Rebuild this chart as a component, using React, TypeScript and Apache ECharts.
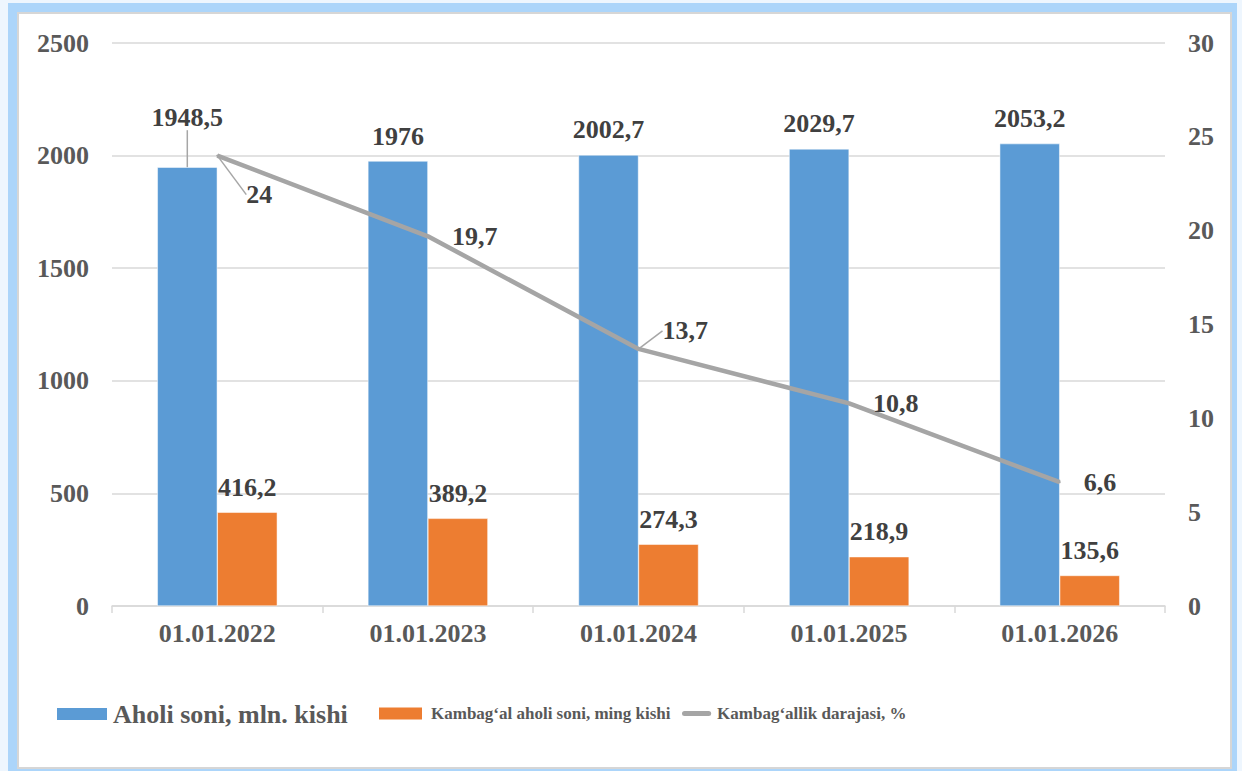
import React, { useEffect, useRef } from "react";
import * as echarts from "echarts";

const categories = ["01.01.2022", "01.01.2023", "01.01.2024", "01.01.2025", "01.01.2026"];
const population = [1948.5, 1976, 2002.7, 2029.7, 2053.2];
const poorPopulation = [416.2, 389.2, 274.3, 218.9, 135.6];
const povertyRate = [24, 19.7, 13.7, 10.8, 6.6];
const leftTicks = [0, 500, 1000, 1500, 2000, 2500];
const rightTicks = [0, 5, 10, 15, 20, 25, 30];
const seriesNames = [
  "Aholi soni, mln. kishi",
  "Kambag\u2018al aholi soni, ming kishi",
  "Kambag\u2018allik darajasi, %",
];

const FONT = "Liberation Serif";
const fmt = (v: number) => String(v).replace(".", ",");

export default function App() {
  const ref = useRef<HTMLDivElement>(null);
  useEffect(() => {
    if (!ref.current) return;
    const chart = echarts.init(ref.current, undefined, { renderer: "svg" });
    const labelStyle = {
      show: true,
      fontFamily: FONT,
      fontWeight: "bold" as const,
      fontSize: 26,
      color: "#404040",
      formatter: (p: any) => fmt(p.value),
    };
    const axisText = {
      fontFamily: FONT,
      fontWeight: "bold" as const,
      fontSize: 26,
      color: "#595959",
    };
    const legendText = (size: number) => ({
      fontFamily: FONT,
      fontWeight: "bold" as const,
      fontSize: size,
      color: "#595959",
    });
    const leader = { show: true, lineStyle: { color: "#A6A6A6", width: 1.5 } };
    chart.setOption({
      animation: false,
      textStyle: { fontFamily: FONT },
      grid: { left: 112, right: 77, top: 43, bottom: 165, containLabel: false },
      legend: [
        {
          left: 55,
          top: 701,
          padding: 0,
          itemWidth: 52,
          itemHeight: 14,
          textStyle: legendText(26),
          data: [{ name: seriesNames[0], icon: "rect" }],
        },
        {
          left: 377,
          top: 705,
          padding: 0,
          itemWidth: 45,
          itemHeight: 14,
          textStyle: { ...legendText(17), padding: [0, 0, 0, 3] },
          data: [{ name: seriesNames[1], icon: "rect" }],
        },
        {
          left: 682,
          top: 705,
          padding: 0,
          itemWidth: 35,
          itemHeight: 5,
          textStyle: { ...legendText(17), padding: [0, 0, 0, -2] },
          data: [
            {
              name: seriesNames[2],
              icon: "path://M3,0 L32,0 A3,3 0 0 1 32,6 L3,6 A3,3 0 0 1 3,0 Z",
            },
          ],
        },
      ],
      xAxis: {
        type: "category",
        data: categories,
        axisLine: { lineStyle: { color: "#D9D9D9", width: 1.5 } },
        axisTick: { show: true, length: 7, lineStyle: { color: "#D9D9D9", width: 1.5 } },
        axisLabel: { margin: 14, ...axisText },
      },
      yAxis: [
        {
          type: "value",
          min: leftTicks[0],
          max: leftTicks[leftTicks.length - 1],
          interval: leftTicks[1] - leftTicks[0],
          axisLine: { show: false },
          axisTick: { show: false },
          splitLine: { lineStyle: { color: "#D9D9D9", width: 1.5 } },
          axisLabel: { margin: 23, ...axisText, formatter: (v: number) => String(v) },
        },
        {
          type: "value",
          min: rightTicks[0],
          max: rightTicks[rightTicks.length - 1],
          interval: rightTicks[1] - rightTicks[0],
          axisLine: { show: false },
          axisTick: { show: false },
          splitLine: { show: false },
          axisLabel: { margin: 23, ...axisText, formatter: (v: number) => String(v) },
        },
      ],
      series: [
        {
          name: seriesNames[0],
          type: "bar",
          barWidth: 60,
          barGap: "0%",
          itemStyle: { color: "#5B9BD5", borderColor: "#ffffff", borderWidth: 0.5 },
          label: { ...labelStyle, position: "top", distance: 12 },
          labelLayout: (p: any) => (p.dataIndex === 0 ? { dy: -25 } : {}),
          data: population.map((v, i) => (i === 0 ? { value: v, labelLine: leader } : v)),
        },
        {
          name: seriesNames[1],
          type: "bar",
          barWidth: 60,
          barGap: "0%",
          itemStyle: { color: "#ED7D31", borderColor: "#ffffff", borderWidth: 0.5 },
          label: { ...labelStyle, position: "top", distance: 12 },
          data: poorPopulation,
        },
        {
          name: seriesNames[2],
          type: "line",
          yAxisIndex: 1,
          symbol: "circle",
          symbolSize: 2,
          itemStyle: { color: "#A5A5A5" },
          lineStyle: { color: "#A5A5A5", width: 4.5 },
          label: { ...labelStyle, position: "right", distance: 23 },
          labelLayout: (p: any) =>
            p.dataIndex === 0 ? { dx: 5, dy: 39 } : p.dataIndex === 2 ? { dy: -18 } : {},
          data: povertyRate.map((v, i) => (i === 0 || i === 2 ? { value: v, labelLine: leader } : v)),
        },
      ],
    });
    return () => chart.dispose();
  }, []);

  return (
    <div
      style={{
        position: "fixed",
        left: 0,
        top: 0,
        width: 1242,
        height: 771,
        background: "#eef6fe",
        overflow: "hidden",
      }}
    >
      <div
        style={{
          position: "absolute",
          left: 8,
          top: 3,
          width: 1229,
          height: 768,
          background: "#acd5fa",
        }}
      />
      <div
        style={{
          position: "absolute",
          left: 17,
          top: 12,
          width: 1215,
          height: 757,
          background: "#ffffff",
          border: "2px solid #d6d6d6",
          boxSizing: "border-box",
        }}
      />
      <div ref={ref} style={{ position: "absolute", left: 0, top: 0, width: 1242, height: 771 }} />
    </div>
  );
}
